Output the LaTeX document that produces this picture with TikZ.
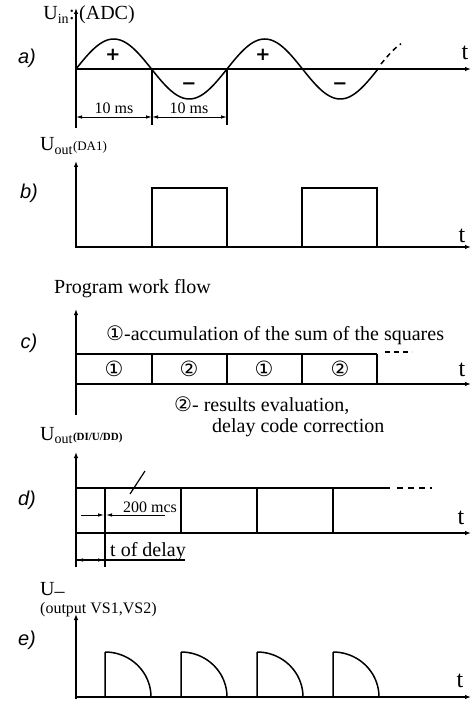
\documentclass[tikz,border=0pt]{standalone}
\usepackage{fontspec}
\setmainfont{Liberation Serif}
\newfontfamily\symf{DejaVu Sans}
\newfontfamily\labf{Liberation Sans}
\usetikzlibrary{arrows.meta}
\tikzset{
  axis/.style={line width=1.7pt,-{Latex[length=6pt,width=4.5pt]}},
  sig/.style={line width=1.5pt},
  thin/.style={line width=1.2pt},
  dashsig/.style={line width=1.4pt,dash pattern=on 6pt off 5pt},
  dimarr/.style={line width=0.9pt,{Latex[length=6pt,width=3.5pt]}-{Latex[length=6pt,width=3.5pt]}},
  panel/.style={font=\labf\itshape\fontsize{20}{22}\selectfont},
  tlab/.style={font=\fontsize{24}{26}\selectfont},
  ulab/.style={font=\fontsize{20}{22}\selectfont,inner sep=0pt},
  txt/.style={font=\fontsize{20}{22}\selectfont,inner sep=0pt},
  small/.style={font=\fontsize{16}{18}\selectfont,inner sep=0pt},
  sgn/.style={font=\symf\bfseries\fontsize{18}{20}\selectfont,inner sep=0pt},
  circ/.style={font=\symf\fontsize{21}{23}\selectfont,inner sep=0pt},
}
\begin{document}
\begin{tikzpicture}[x=1pt,y=-1pt]
\useasboundingbox (0,0) rectangle (472,703);
% ---------- a) ----------
\node[panel] (la) at (27,58) {a)};
\coordinate (a0) at (76,128);
\coordinate (atop) at (76,8);
\coordinate (ao) at (76,69);
\coordinate (aend) at (471,69);
\draw[axis] (a0) -- (atop);
\draw[axis,line width=1.3pt] (ao) -- (aend);
\draw[sig] plot[domain=0:302,samples=150] ({76+\x},{69-30*sin(2.3841*\x)});
\draw[sig,dash pattern=on 5pt off 4pt] plot[domain=4:24,samples=20] ({377+\x},{69-30*sin(2.3841*\x)});
\node[ulab,anchor=base east] (uin) at (75,20) {U\textsubscript{in}:};
\node[ulab,anchor=base west] (adc) at (79,20) {(ADC)};
\node[sgn] (p1) at (113,55) {+};
\node[sgn] (p2) at (263,55) {+};
\node[sgn] (m1) at (189,86) {−};
\node[sgn] (m2) at (340,86) {−};
\node[tlab] (ta) at (465,53) {t};
\coordinate (e1t) at (152,69); \coordinate (e1b) at (152,125);
\coordinate (e2t) at (227,69); \coordinate (e2b) at (227,125);
\draw[thin] (e1t) -- (e1b);
\draw[thin] (e2t) -- (e2b);
\coordinate (d0) at (76,117); \coordinate (d1) at (152,117); \coordinate (d2) at (227,117);
\draw[dimarr] (d0) -- (d1);
\draw[dimarr] (d1) -- (d2);
\node[small,anchor=south] (ms1) at (114,114) {10 ms};
\node[small,anchor=south] (ms2) at (189,114) {10 ms};
% ---------- b) ----------
\node[panel] (lb) at (29,193) {b)};
\node[ulab,anchor=base west] (uout1) at (40,151) {U\textsubscript{out}{\fontsize{13}{15}\selectfont(DA1)}};
\coordinate (b0) at (76,248);
\coordinate (btop) at (76,161);
\coordinate (bend) at (471,247);
\draw[axis] (b0) -- (btop);
\draw[axis,line width=1.2pt] (76,247) -- (bend);
\draw[sig] (76,247) -- (152,247) -- (152,188) -- (227,188) -- (227,247) -- (302,247) -- (302,188) -- (377,188) -- (377,247);
\draw[dashsig] (377,247) -- (425,247);
\node[tlab] (tb) at (462,236) {t};
% ---------- c) ----------
\node[txt,anchor=west] (pwf) at (54,289) {Program work flow};
\node[panel] (lc) at (29,343) {c)};
\coordinate (c0) at (76,415);
\coordinate (ctop) at (76,309);
\coordinate (cend) at (471,384);
\draw[axis] (c0) -- (ctop);
\draw[axis,line width=1.3pt] (76,384) -- (cend);
\draw[sig] (76,354) -- (377,354);
\foreach \xx in {152,227,302,377} \draw[sig] (\xx,354) -- (\xx,384);
\draw[line width=1.2pt,dash pattern=on 5pt off 4pt] (385,352) -- (412,352);
\node[circ] (c1) at (114,369) {①};
\node[circ] (c2) at (189,369) {②};
\node[circ] (c3) at (264,369) {①};
\node[circ] (c4) at (340,369) {②};
\node[txt,anchor=west] (acc) at (106,335) {{\symf\fontsize{20}{22}\selectfont①}-accumulation of the sum of the squares};
\node[txt,anchor=west] (res) at (174,406) {{\symf\fontsize{20}{22}\selectfont②}- results evaluation,};
\node[txt,anchor=west] (dcc) at (212,428) {delay code correction};
\node[tlab] (tc) at (462,370) {t};
% ---------- d) ----------
\node[ulab,anchor=base west] (uout2) at (40,440) {U\textsubscript{out}{\fontsize{11}{13}\selectfont\bfseries(DI/U/DD)}};
\node[panel] (ld) at (27,500) {d)};
\coordinate (dd0) at (76,567);
\coordinate (dtop) at (76,452);
\coordinate (dend) at (471,533);
\draw[axis] (dd0) -- (dtop);
\draw[axis,line width=1.3pt] (76,533) -- (dend);
\draw[sig] (76,488) -- (390,488);
\draw[dashsig] (397,488) -- (432,488);
\draw[sig] (105,488) -- (105,567);
\foreach \xx in {181,257,333} \draw[sig] (\xx,488) -- (\xx,533);
\coordinate (lead1) at (130,494); \coordinate (lead2) at (145,471);
\draw[thin] (lead1) -- (lead2);
\node[small,anchor=base] (mcs) at (150,512) {200 mcs};
\draw[line width=0.9pt,-{Latex[length=6pt,width=3.5pt]}] (81,515) -- (104,515);
\draw[line width=0.9pt,{Latex[length=6pt,width=3.5pt]}-] (106,515) -- (165,515);
\node[txt,anchor=base] (tdel) at (148,556) {t of delay};
\draw[thin] (76,560) -- (185,560);
\draw[dimarr] (77,560) -- (104,560);
\node[tlab] (td) at (461,518) {t};
% ---------- e) ----------
\node[ulab,anchor=base west] (ue) at (40,595) {U\raisebox{-2pt}{–}};
\node[small,anchor=base west] (outvs) at (40,613) {(output VS1,VS2)};
\node[panel] (le) at (27,640) {e)};
\coordinate (e0) at (76,699);
\coordinate (etop) at (76,614);
\coordinate (eend) at (471,697);
\draw[axis] (e0) -- (etop);
\draw[axis,line width=1.3pt] (76,697) -- (eend);
\foreach \xx in {105,181,257,333} {
  \draw[sig] (\xx,697) -- (\xx,652) plot[domain=0:90,samples=40] ({\xx+46*sin(\x)},{697-45*cos(\x)});
}
\node[tlab] (te) at (460,681) {t};
\end{tikzpicture}
\end{document}
